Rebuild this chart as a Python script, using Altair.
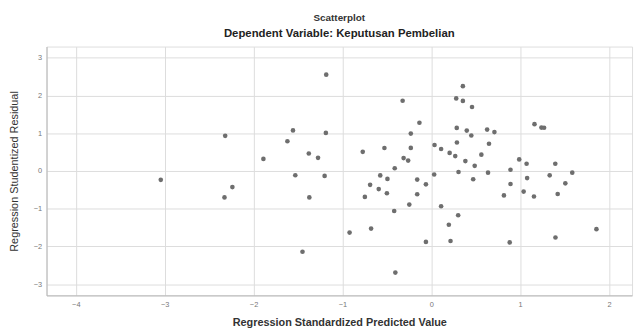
import altair as alt
import pandas as pd

# Regression Standardized Predicted Value
pred = [
    -1.182, -1.556, -1.186, -2.319, -1.619, -1.378, -1.274, -1.889, -1.530, -1.200,
    -3.044, -2.238, -2.327, -1.372, -0.919, -1.449, -0.771, -0.747,
    0.356, -0.322, 0.281, 0.356, 0.459, -0.133, 1.162, 1.240, 1.270, 0.287,
    0.400, 0.629, 0.711, -0.230, 0.451, 0.289, 0.650, 0.037, -0.527, -0.230,
    0.111, 0.207, 0.270, 0.564, -0.311, -0.260, 0.384, 0.990, 1.073, 1.396,
    0.489, -0.411, 0.892, 0.307, 0.639, 1.587, 0.033, -0.574, 1.333, -0.493,
    -0.158, 0.472, 1.079, -0.688, -0.060, 0.892, 1.509, -0.591, -0.499, -0.158,
    1.040, 0.818, 1.156, 1.423, -0.247, 0.111, -0.417, 0.303, 0.198, -0.677,
    1.859, 1.398, -0.060, 0.217, 0.883, -0.404,
]
# Regression Studentized Residual
resid = [
    2.554, 1.076, 1.010, 0.932, 0.787, 0.465, 0.349, 0.320, -0.113, -0.131,
    -0.236, -0.428, -0.701, -0.701, -1.635, -2.144, 0.507, -0.688,
    2.249, 1.864, 1.924, 1.858, 1.698, 1.278, 1.241, 1.150, 1.147, 1.142,
    1.071, 1.097, 1.031, 0.992, 0.940, 0.756, 0.722, 0.688, 0.609, 0.612,
    0.583, 0.480, 0.394, 0.433, 0.341, 0.276, 0.262, 0.307, 0.192, 0.192,
    0.136, 0.073, 0.031, -0.026, -0.045, -0.045, -0.092, -0.118, -0.115, -0.210,
    -0.228, -0.218, -0.189, -0.367, -0.354, -0.346, -0.328, -0.480, -0.591, -0.617,
    -0.546, -0.648, -0.677, -0.612, -0.892, -0.937, -1.063, -1.173, -1.425, -1.528,
    -1.543, -1.766, -1.882, -1.856, -1.895, -2.696,
]

x_ticks = [-4, -3, -2, -1, 0, 1, 2]
y_ticks = [-3, -2, -1, 0, 1, 2, 3]

title_main = "Scatterplot"
title_sub = "Dependent Variable: Keputusan Pembelian"
x_title = "Regression Standardized Predicted Value"
y_title = "Regression Studentized Residual"

df = pd.DataFrame({"pred": pred, "resid": resid})

W, H = 593, 252
FONT = "Liberation Sans"

chart = (
    alt.Chart(df)
    .mark_circle(size=22, color="#6e6e6e", opacity=1)
    .encode(
        x=alt.X(
            "pred:Q",
            scale=alt.Scale(domain=[-4.33, 2.26], nice=False, zero=False),
            axis=alt.Axis(
                values=x_ticks,
                title=x_title,
                titleX=W / 2,
                titleY=27,
                titleBaseline="middle",
                titleFontSize=11,
                titleFontWeight="bold",
                titleColor="#333333",
                titleFont=FONT,
                labelFontSize=7.5,
                labelColor="#777777",
                labelFont=FONT,
                labelPadding=5,
                ticks=False,
                domainColor="#b5b5b5",
                gridColor="#dcdcdc",
            ),
        ),
        y=alt.Y(
            "resid:Q",
            scale=alt.Scale(domain=[-3.3, 3.3], nice=False, zero=False),
            axis=alt.Axis(
                values=y_ticks,
                title=y_title,
                titleX=-32,
                titleY=H / 2,
                titleAngle=-90,
                titleAlign="center",
                titleBaseline="middle",
                titleFontSize=11,
                titleFontWeight="normal",
                titleColor="#333333",
                titleFont=FONT,
                labelFontSize=7.5,
                labelColor="#777777",
                labelFont=FONT,
                labelPadding=5,
                ticks=False,
                domainColor="#b5b5b5",
                gridColor="#dcdcdc",
            ),
        ),
    )
    .properties(
        width=W,
        height=H,
        title=alt.TitleParams(
            text=title_main,
            subtitle=title_sub,
            anchor="middle",
            fontSize=10,
            fontWeight="bold",
            color="#333333",
            font=FONT,
            subtitleFontSize=11.5,
            subtitleFontWeight="bold",
            subtitleColor="#222222",
            subtitleFont=FONT,
            subtitlePadding=5,
            offset=7,
        ),
        autosize=alt.AutoSizeParams(type="none"),
        padding={"left": 39, "top": 37, "right": 4, "bottom": 33},
    )
    .configure_view(stroke=None)
    .configure(background="white")
)

chart.save("out.html", embed_options={"renderer": "svg", "actions": False})
